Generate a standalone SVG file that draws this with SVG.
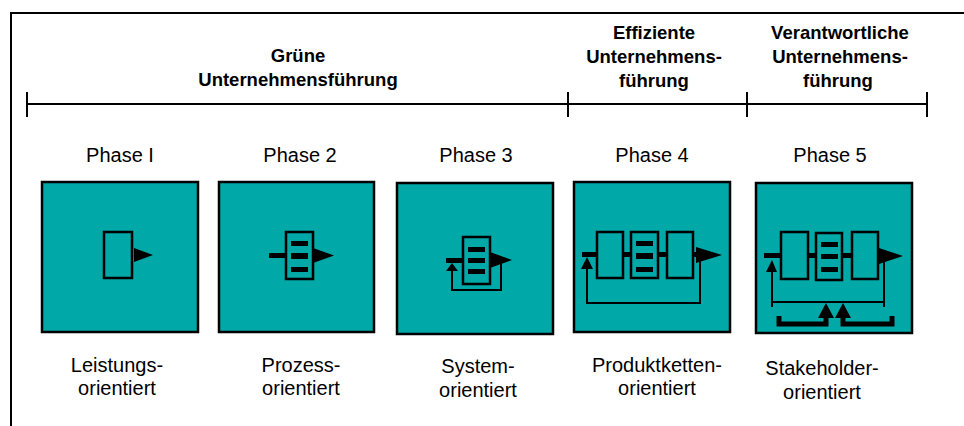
<svg xmlns="http://www.w3.org/2000/svg" width="964" height="426" viewBox="0 0 964 426">
<defs>
<style>
.frame{fill:none;stroke:#000;stroke-width:2}
.box{fill:#00A8A8;stroke:#000;stroke-width:2.5}
.ib{fill:#00A8A8;stroke:#000;stroke-width:2.5}
.bar{fill:#000}
.thin{fill:none;stroke:#000;stroke-width:2}
.thick{fill:none;stroke:#000;stroke-width:5}
.hd{font-family:"Liberation Sans",Arial,sans-serif;font-weight:bold;font-size:18.5px;text-anchor:middle;fill:#000}
.ph{font-family:"Liberation Sans",Arial,sans-serif;font-size:20px;text-anchor:middle;fill:#000}
.lb{font-family:"Liberation Sans",Arial,sans-serif;font-size:20px;text-anchor:middle;fill:#000}
</style>
</defs>
<rect width="964" height="426" fill="#fff"/>
<path class="frame" d="M11,426 V13 H964"/>
<g id="timeline">
<path class="frame" d="M27,104 H927 M27,92 V117 M568,92 V117 M747,92 V117 M927,92 V117"/>
</g>
<g id="header-gruen">
<text class="hd" x="298" y="62">Grüne</text>
<text class="hd" x="298" y="86">Unternehmensführung</text>
</g>
<g id="header-effizient">
<text class="hd" x="654" y="39">Effiziente</text>
<text class="hd" x="654" y="63">Unternehmens-</text>
<text class="hd" x="654" y="87">führung</text>
</g>
<g id="header-verantwortlich">
<text class="hd" x="840" y="39">Verantwortliche</text>
<text class="hd" x="840" y="63">Unternehmens-</text>
<text class="hd" x="838" y="87">führung</text>
</g>
<g id="phase1">
<text class="ph" x="120" y="162">Phase I</text>
<rect class="box" x="42" y="182" width="156" height="150"/>
<rect class="ib" x="104" y="232" width="28" height="46"/>
<polygon points="134,248 153,255 134,262"/>
<text class="lb" x="117" y="372">Leistungs-</text>
<text class="lb" x="117" y="395">orientiert</text>
</g>
<g id="phase2">
<text class="ph" x="300" y="162">Phase 2</text>
<rect class="box" x="219" y="182" width="155" height="150"/>
<path class="thick" d="M269,255.5 H286"/>
<rect class="ib" x="286" y="232" width="27" height="47"/>
<rect class="bar" x="291" y="241" width="17" height="5"/>
<rect class="bar" x="291" y="253" width="17" height="6"/>
<rect class="bar" x="291" y="267" width="17" height="5"/>
<polygon points="313,248 334,255.5 313,263"/>
<text class="lb" x="301" y="372">Prozess-</text>
<text class="lb" x="301" y="395">orientiert</text>
</g>
<g id="phase3">
<text class="ph" x="476" y="162">Phase 3</text>
<rect class="box" x="397" y="183" width="156" height="151"/>
<path class="thick" d="M446,260.5 H463"/>
<rect class="ib" x="463" y="237" width="27" height="47"/>
<rect class="bar" x="468" y="247" width="17" height="5"/>
<rect class="bar" x="468" y="258" width="17" height="5"/>
<rect class="bar" x="468" y="269" width="17" height="5"/>
<polygon points="490,252 512,260 490,268"/>
<polygon points="452,263 458,271 446,271"/>
<path class="thin" d="M452,271 V290 H501 V262"/>
<text class="lb" x="478" y="373">System-</text>
<text class="lb" x="478" y="397">orientiert</text>
</g>
<g id="phase4">
<text class="ph" x="652" y="162">Phase 4</text>
<rect class="box" x="574" y="182" width="156" height="150"/>
<path class="thick" d="M582,254.5 H597 M623,254.5 H631 M658,254.5 H667 M693,254.5 H698"/>
<rect class="ib" x="597" y="232" width="26" height="46"/>
<rect class="ib" x="631" y="232" width="27" height="46"/>
<rect class="bar" x="636" y="241" width="17" height="5"/>
<rect class="bar" x="636" y="253" width="17" height="6"/>
<rect class="bar" x="636" y="267" width="17" height="5"/>
<rect class="ib" x="667" y="232" width="26" height="46"/>
<polygon points="696,247 722,255 696,263"/>
<polygon points="587,257 593,269 581,269"/>
<path class="thin" d="M587,269 V303 H700 V258"/>
<text class="lb" x="657" y="372">Produktketten-</text>
<text class="lb" x="657" y="395">orientiert</text>
</g>
<g id="phase5">
<text class="ph" x="830" y="162">Phase 5</text>
<rect class="box" x="756" y="183" width="156" height="150"/>
<path class="thick" d="M764,255.5 H781 M808,255.5 H816 M842,255.5 H852"/>
<rect class="ib" x="781" y="232" width="27" height="47"/>
<rect class="ib" x="816" y="233" width="26" height="47"/>
<rect class="bar" x="821" y="242" width="17" height="5"/>
<rect class="bar" x="821" y="254" width="17" height="5"/>
<rect class="bar" x="821" y="267" width="17" height="5"/>
<rect class="ib" x="852" y="232" width="26" height="47"/>
<polygon points="879,248 903,256 879,264"/>
<polygon points="772,260 777,272 766,272"/>
<path class="thin" d="M772,272 V307 M884,258 V307 M772,302 H884"/>
<polygon points="826,303 834,318 818,318"/>
<polygon points="843,303 851,318 835,318"/>
<path class="thick" d="M779,316 V324 H826 V316 M843,316 V324 H892 V316"/>
<text class="lb" x="822" y="375">Stakeholder-</text>
<text class="lb" x="822" y="399">orientiert</text>
</g>
</svg>
